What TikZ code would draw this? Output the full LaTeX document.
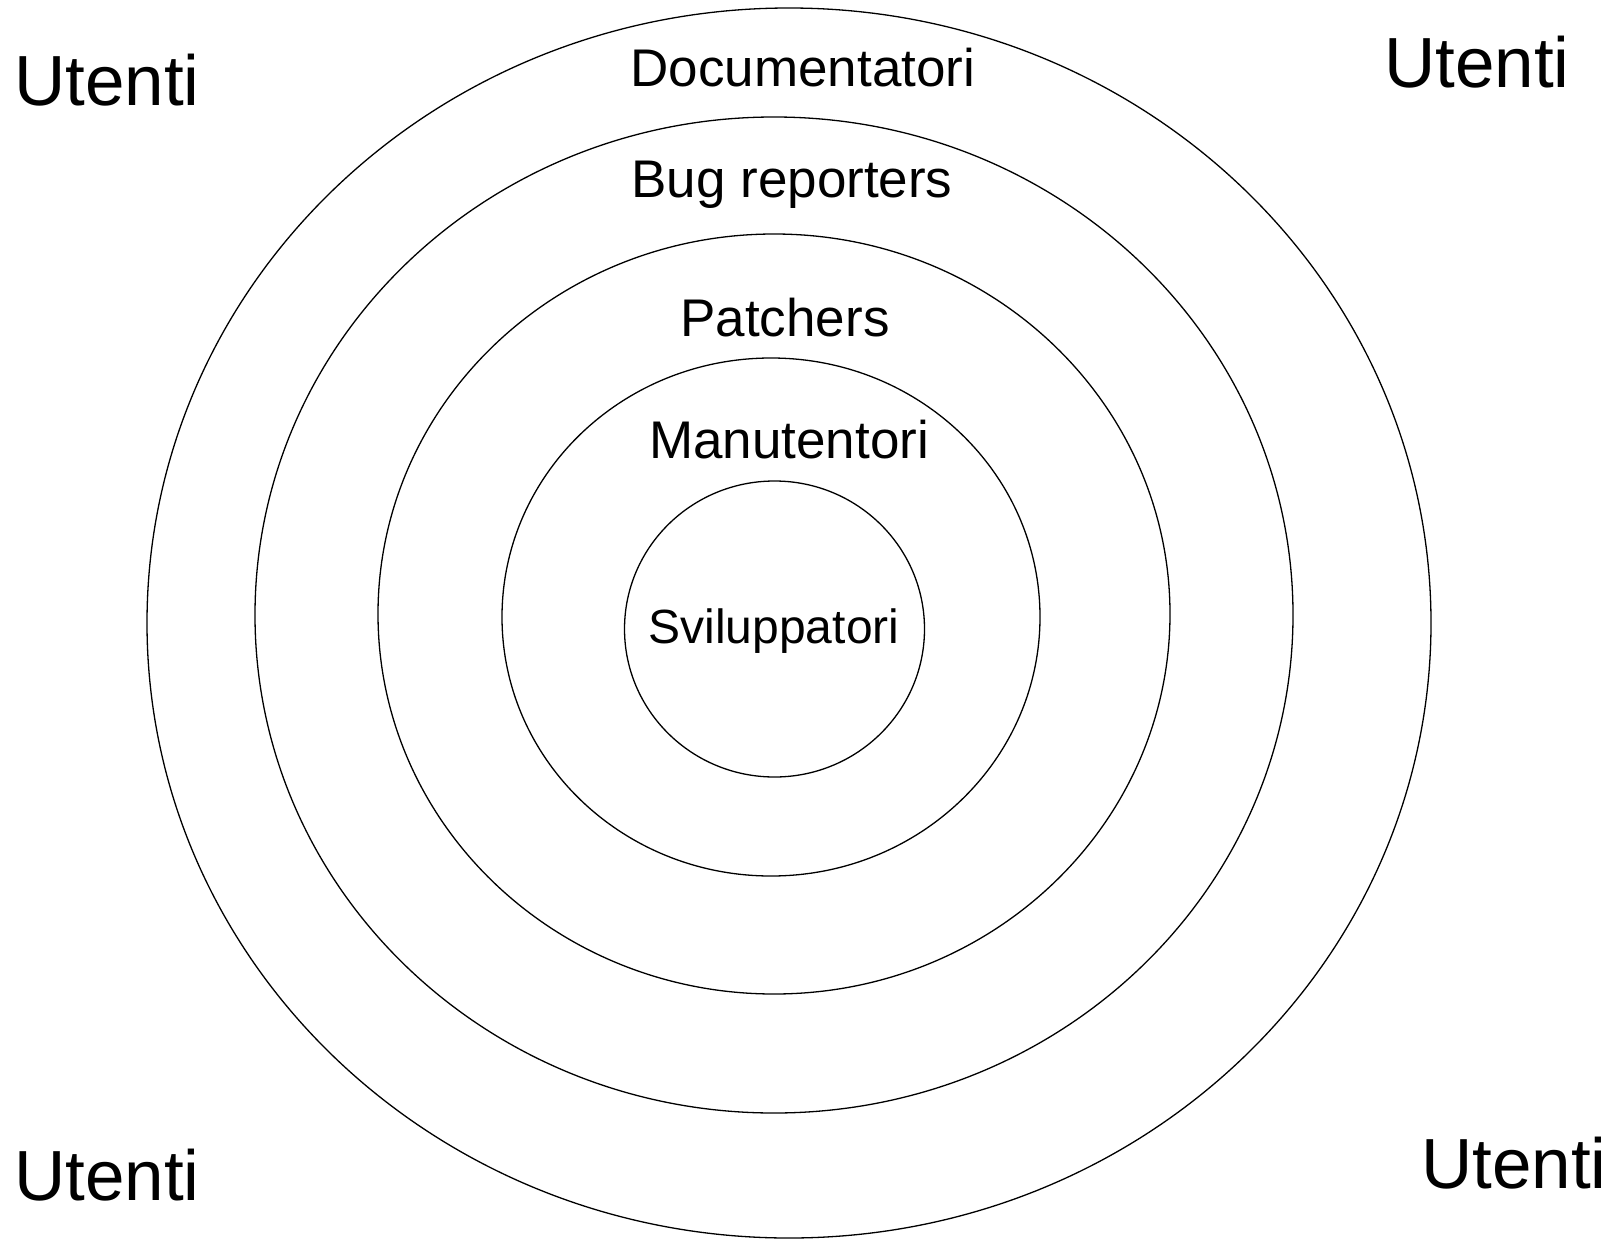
\documentclass[tikz,border=0pt]{standalone}
\usepackage{fontspec}
\setmainfont{Liberation Sans}
\begin{document}
\begin{tikzpicture}[x=1pt,y=-1pt,
  ring/.style={line width=1.3pt,draw=black},
  big/.style={font=\fontsize{71}{85}\selectfont,anchor=base,inner sep=0pt},
  mid/.style={font=\fontsize{53}{64}\selectfont,anchor=base,inner sep=0pt},
  core/.style={font=\fontsize{48}{58}\selectfont,anchor=base,inner sep=0pt}]
\useasboundingbox[fill=white] (0,0) rectangle (1619,1239);
\draw[ring] (789,623) ellipse [x radius=642pt, y radius=615pt];
\draw[ring] (774,615) ellipse [x radius=519pt, y radius=498pt];
\draw[ring] (774,614) ellipse [x radius=396pt, y radius=380pt];
\draw[ring] (771,617) ellipse [x radius=269pt, y radius=259pt];
\draw[ring] (774.5,629) ellipse [x radius=150pt, y radius=148pt];
\node[mid] (doc) at (803,86) {Documentatori};
\node[mid] (bug) at (792,197) {Bug reporters};
\node[mid] (pat) at (785,336) {Patchers};
\node[mid] (man) at (789,458) {Manutentori};
\node[core] (svi) at (774,643) {Sviluppatori};
\node[big] (utl) at (107,105) {Utenti};
\node[big] (utr) at (1477,88) {Utenti};
\node[big] (ubl) at (107,1200) {Utenti};
\node[big] (ubr) at (1514,1188) {Utenti};
\end{tikzpicture}
\end{document}
